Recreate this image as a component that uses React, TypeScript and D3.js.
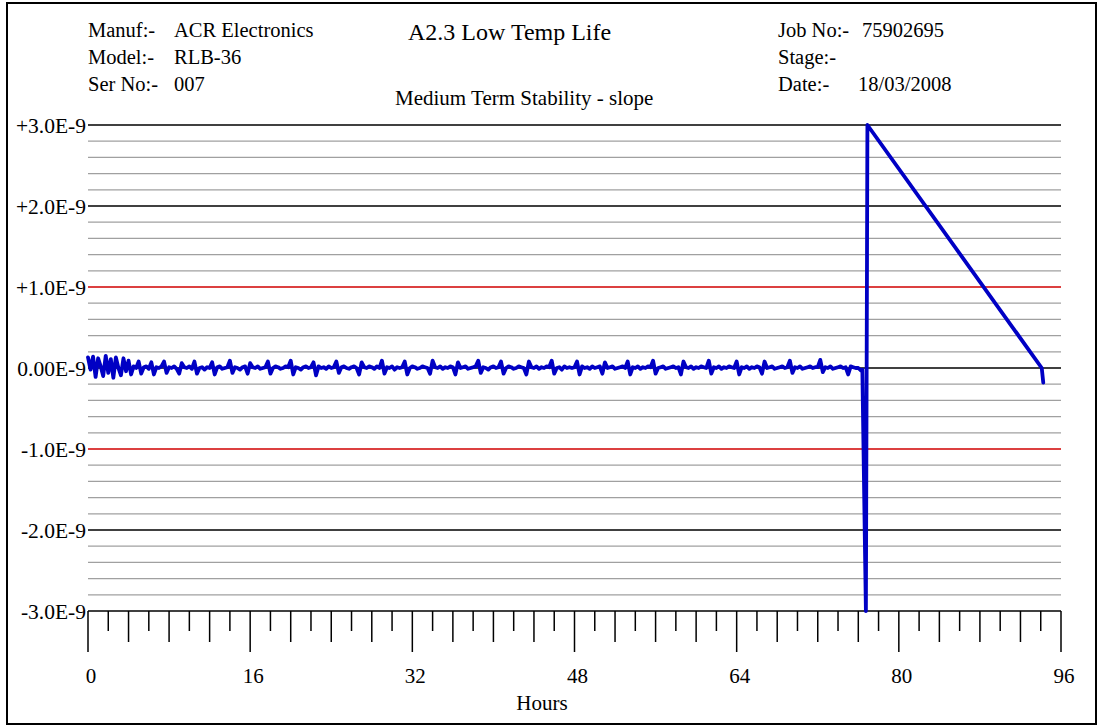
import React from "react";
import * as d3 from "d3";

// ---- data ----
const headerLeftLabels = ["Manuf:-", "Model:-", "Ser No:-"];
const headerLeftValues = ["ACR Electronics", "RLB-36", "007"];
const headerRightLabels = ["Job No:-", "Stage:-", "Date:-"];
const headerRightValues = ["75902695", "", "18/03/2008"];
const chartTitle = "A2.3 Low Temp Life";
const chartSubtitle = "Medium Term Stability - slope";
const xAxisTitle = "Hours";

const yMajorTicks = [3, 2, 1, 0, -1, -2, -3];
const yTickLabels = ["+3.0E-9", "+2.0E-9", "+1.0E-9", "0.00E-9", "-1.0E-9", "-2.0E-9", "-3.0E-9"];
const redLevels = [1, -1];
const xLabelTicks = [0, 16, 32, 48, 64, 80, 96];

// sampling of the stable part (hours)
const noiseStartHour = 0;
const noiseStepHours = 0.25;
// slope values (x 1E-9), every 0.25 h
const noiseValues = [
  0.13, -0.02, 0.14, -0.11, 0.12, 0.02, -0.1, 0.15, -0.06, 0.11, -0.12, 0.13, 0.0, -0.09, 0.12, -0.04,
  0.09, -0.08, 0.02, 0.0, 0.08, -0.07, 0.01, 0.02, -0.01, 0.07, -0.08, 0.01, 0.0, 0.02, 0.08, -0.06,
  0.01, 0.0, 0.02, -0.01, -0.07, 0.06, 0.01, 0.0, 0.02, -0.01, 0.08, -0.07, 0.0, 0.01, -0.02, 0.01,
  0.0, 0.07, -0.08, 0.01, 0.02, -0.01, 0.0, 0.01, 0.09, -0.06, 0.01, 0.0, -0.02, 0.01, 0.02, -0.07,
  0.06, 0.01, 0.0, 0.02, -0.01, 0.0, 0.01, 0.08, -0.07, 0.0, 0.02, 0.01, -0.01, 0.0, 0.02, 0.01,
  0.09, -0.08, 0.01, 0.0, -0.02, 0.01, 0.02, 0.0, 0.01, 0.07, -0.09, 0.02, 0.0, 0.01, -0.01, 0.02,
  0.0, 0.01, 0.08, -0.06, 0.01, 0.02, 0.0, -0.01, 0.01, 0.02, 0.0, -0.08, 0.07, 0.01, 0.0, 0.02,
  0.01, -0.01, 0.02, 0.0, 0.09, -0.07, 0.01, 0.0, 0.02, -0.02, 0.01, 0.0, 0.01, 0.08, -0.08, 0.0,
  0.02, 0.01, -0.01, 0.0, 0.02, 0.01, 0.0, -0.07, 0.09, 0.01, 0.0, 0.02, -0.01, 0.01, 0.0, 0.02,
  0.01, -0.08, 0.07, 0.0, 0.01, 0.02, -0.01, 0.0, 0.01, 0.02, 0.09, -0.06, 0.01, 0.0, -0.02, 0.01,
  0.02, 0.0, 0.01, 0.08, -0.07, 0.0, 0.02, 0.01, -0.01, 0.0, 0.02, 0.01, 0.0, -0.08, 0.08, 0.01,
  0.0, 0.02, -0.01, 0.01, 0.0, 0.02, 0.01, 0.09, -0.07, 0.0, 0.01, -0.02, 0.02, 0.0, 0.01, 0.0,
  0.01, 0.08, -0.08, 0.02, 0.0, 0.01, -0.01, 0.02, 0.0, 0.01, 0.02, -0.07, 0.07, 0.0, 0.01, 0.02,
  -0.01, 0.0, 0.01, 0.02, 0.0, 0.08, -0.08, 0.01, 0.0, 0.02, -0.01, 0.01, 0.0, 0.02, 0.01, 0.09,
  -0.07, 0.0, 0.01, 0.02, -0.01, 0.0, 0.01, 0.02, 0.0, 0.01, -0.08, 0.08, 0.01, 0.0, 0.02, -0.01,
  0.01, 0.0, 0.02, 0.01, 0.0, 0.09, -0.07, 0.01, 0.0, 0.02, -0.01, 0.01, 0.0, 0.02, 0.01, 0.0,
  0.08, -0.08, 0.01, 0.0, 0.02, -0.01, 0.01, 0.0, 0.02, 0.01, -0.07, 0.08, 0.0, 0.01, 0.02, -0.01,
  0.0, 0.01, 0.02, 0.0, 0.01, 0.09, -0.06, 0.01, 0.0, 0.02, -0.01, 0.0, 0.01, 0.02, 0.0, 0.01,
  0.01, 0.1, -0.05, 0.01, 0.0, 0.02, -0.01, 0.0, 0.01, 0.02, 0.0, 0.01, -0.08, 0.02, 0.01, 0.0,
  0.0, -0.03,
];
// the event after ~76 h
const eventHours = [76.4, 76.75, 76.9, 94.1, 94.25];
const eventValues = [-0.02, -3.0, 3.0, 0.0, -0.18];

// ---- layout ----
const W = 1100;
const H = 728;
const plotLeft = 88;
const plotRight = 1061;
const plotTop = 125;
const plotBottom = 611;
const FONT = "'Liberation Serif', 'Times New Roman', serif";

export default function App() {
  const x = d3.scaleLinear().domain([0, 96]).range([plotLeft, plotRight]);
  const y = d3.scaleLinear().domain([-3, 3]).range([plotBottom, plotTop]);

  const points: [number, number][] = [];
  noiseValues.forEach((v, i) => points.push([noiseStartHour + i * noiseStepHours, v]));
  eventHours.forEach((h, i) => points.push([h, eventValues[i]]));

  const line = d3
    .line<[number, number]>()
    .x((d) => x(d[0]))
    .y((d) => y(d[1]));

  const minorLevels = d3.range(-3, 3.0001, 0.2).filter(
    (v) => Math.abs(v - Math.round(v)) > 0.01
  );
  const xTicks = d3.range(0, 97, 2);

  return (
    <svg
      width={W}
      height={H}
      style={{ position: "absolute", left: 0, top: 0, background: "#fff" }}
      fontFamily={FONT}
    >
      <rect x={7} y={3} width={1089} height={721} fill="#fff" stroke="#000" strokeWidth={2} />

      {/* header */}
      {headerLeftLabels.map((t, i) => (
        <g key={"hl" + i}>
          <text x={88} y={36.5 + i * 27} fontSize={20.5}>{t}</text>
          <text x={174} y={36.5 + i * 27} fontSize={20.5}>{headerLeftValues[i]}</text>
        </g>
      ))}
      {headerRightLabels.map((t, i) => (
        <g key={"hr" + i}>
          <text x={778} y={36.5 + i * 27} fontSize={20.5}>{t}</text>
          <text x={i === 0 ? 862 : 858} y={36.5 + i * 27} fontSize={20.5}>{headerRightValues[i]}</text>
        </g>
      ))}
      <text x={408} y={39.5} fontSize={24}>{chartTitle}</text>
      <text x={395} y={105} fontSize={21}>{chartSubtitle}</text>

      {/* minor gridlines */}
      {minorLevels.map((v, i) => (
        <line key={"mg" + i} x1={plotLeft} x2={plotRight} y1={y(v)} y2={y(v)} stroke="#a0a0a0" strokeWidth={1.2} />
      ))}
      {/* major gridlines */}
      {yMajorTicks.map((v, i) => (
        <g key={"mj" + i}>
          <line
            x1={plotLeft}
            x2={plotRight}
            y1={y(v)}
            y2={y(v)}
            stroke={redLevels.includes(v) ? "#d00000" : "#000"}
            strokeWidth={1.5}
          />
          <text x={86} y={y(v)} dy="0.35em" textAnchor="end" fontSize={21.5}>
            {yTickLabels[i]}
          </text>
        </g>
      ))}

      {/* x ticks */}
      {xTicks.map((h) => {
        const len = h % 16 === 0 ? 41 : h % 4 === 0 ? 31 : 20;
        return (
          <line key={"xt" + h} x1={x(h)} x2={x(h)} y1={plotBottom} y2={plotBottom + len} stroke="#000" strokeWidth={1.5} />
        );
      })}
      {xLabelTicks.map((h) => (
        <text key={"xl" + h} x={x(h) + 3} y={683} textAnchor="middle" fontSize={21}>
          {h}
        </text>
      ))}
      <text x={542} y={710} textAnchor="middle" fontSize={21}>{xAxisTitle}</text>

      {/* data */}
      <path
        d={line(points) || ""}
        fill="none"
        stroke="#0000c4"
        strokeWidth={3.8}
        strokeLinejoin="round"
        strokeLinecap="round"
      />
    </svg>
  );
}
